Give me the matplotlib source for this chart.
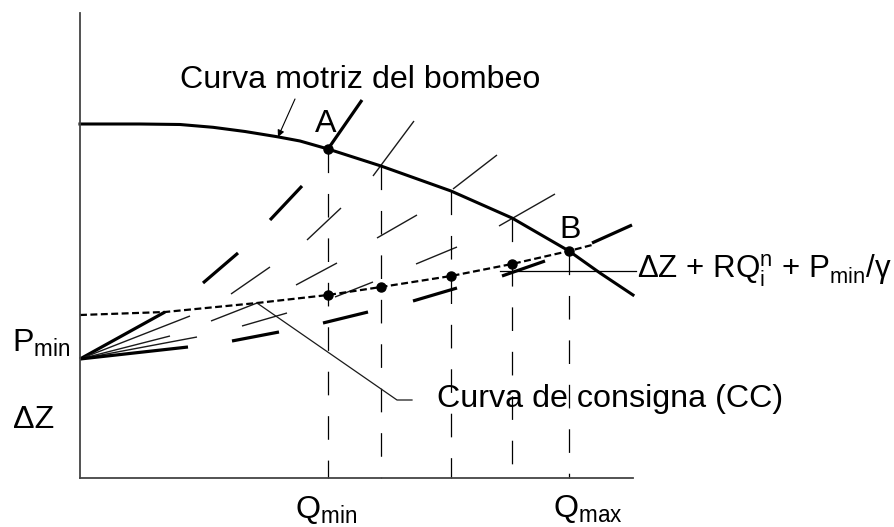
import numpy as np
import matplotlib
matplotlib.use('Agg')
import matplotlib.pyplot as plt

plt.rcParams['font.family'] = ['Liberation Sans', 'DejaVu Sans']
plt.rcParams['mathtext.fontset'] = 'custom'
plt.rcParams['mathtext.rm'] = 'Liberation Sans'
plt.rcParams['mathtext.it'] = 'Liberation Sans:italic'
plt.rcParams['lines.scale_dashes'] = False

# curva motriz del bombeo (Q, H)
q_pump = [0.0, 6.0, 10.0, 13.3, 16.5, 19.7, 22.0, 24.8, 30.1, 37.1, 43.2, 48.9, 52.0, 55.3]
h_pump = [35.4, 35.4, 35.35, 35.07, 34.65, 34.13, 33.7, 32.9, 31.2, 28.7, 26.0, 22.7, 20.5, 18.3]

# curva de consigna (CC)
q_cc = [0.0, 8.5, 17.7, 24.8, 30.1, 37.1, 43.2, 48.9, 51.2]
h_cc = [16.3, 16.6, 17.5, 18.3, 19.1, 20.2, 21.4, 22.7, 23.3]

# caudales de trabajo Qmin ... Qmax
q_i = [24.8, 30.1, 37.1, 43.2, 48.9]
h_pump_i = [32.9, 31.2, 28.7, 26.0, 22.7]
h_cc_i = [18.3, 19.1, 20.2, 21.4, 22.7]

# curvas resistentes: tramos de trazo (pares de puntos consecutivos)
sys_a_q = [0.0, 8.5, 12.3, 15.8, 19.0, 22.2, 24.8, 28.2]
sys_a_h = [11.9, 16.6, 19.5, 22.5, 25.8, 29.2, 32.9, 37.8]
sys_2_q = [0.0, 11.0, 15.1, 19.0, 22.7, 26.1, 29.3, 33.4]
sys_2_h = [11.9, 16.2, 18.4, 21.1, 23.8, 27.0, 30.2, 35.7]
sys_3_q = [0.0, 9.0, 13.1, 17.7, 21.6, 25.7, 29.7, 33.7, 37.3, 41.7]
sys_3_h = [11.9, 14.2, 15.7, 17.5, 19.3, 21.5, 24.0, 26.3, 28.9, 32.3]
sys_4_q = [0.0, 11.7, 16.2, 20.7, 25.5, 29.3, 33.6, 37.7, 41.9, 47.5]
sys_4_h = [11.9, 14.1, 15.2, 16.5, 18.1, 19.6, 21.4, 23.1, 25.2, 28.4]
sys_b_q = [0.0, 10.8, 15.2, 19.9, 24.3, 28.8, 33.3, 37.7, 42.2, 46.5, 51.2, 55.2]
sys_b_h = [11.9, 13.1, 13.7, 14.6, 15.5, 16.6, 17.7, 19.0, 20.2, 21.7, 23.5, 25.3]

h_ref = 20.75  # nivel de referencia del rotulo de la derecha

fig = plt.figure(figsize=(8.94, 5.27), dpi=100)
ax = fig.add_axes([80 / 894, 49 / 527, 553 / 894, 465 / 527])
ax.set_xlim(0, 55.3)
ax.set_ylim(0, 46.5)
for s in ['top', 'right']:
    ax.spines[s].set_visible(False)
for s in ['left', 'bottom']:
    ax.spines[s].set_color('#444444')
    ax.spines[s].set_linewidth(1.3)
ax.set_xticks([])
ax.set_yticks([])


def draw_dashes(qs, hs, lw, color='black'):
    for k in range(0, len(qs) - 1, 2):
        ax.plot(qs[k:k + 2], hs[k:k + 2], color=color, lw=lw,
                solid_capstyle='butt', clip_on=False)


draw_dashes(sys_a_q, sys_a_h, 2.3)
draw_dashes(sys_2_q, sys_2_h, 1.0, '#1a1a1a')
draw_dashes(sys_3_q, sys_3_h, 1.0, '#1a1a1a')
draw_dashes(sys_4_q, sys_4_h, 1.0, '#1a1a1a')
draw_dashes(sys_b_q, sys_b_h, 2.3)

# verticales de cada caudal
for q, h in zip(q_i, h_pump_i):
    ax.plot([q, q], [h, 0], color='black', lw=0.9, linestyle=(0, (17, 15)),
            clip_on=False)

ax.plot(q_pump, h_pump, color='black', lw=2.2, solid_joinstyle='round',
        clip_on=False)
ax.plot(q_cc, h_cc, color='black', lw=1.6, linestyle=(0, (5, 2.5)),
        clip_on=False)

ax.plot(q_i, h_cc_i, 'o', color='black', ms=6.5, clip_on=False)
ax.plot(q_i[0], h_pump_i[0], 'o', color='black', ms=6.5, clip_on=False)

ax.plot([42.0, 55.6], [h_ref, h_ref], color='black', lw=0.9, clip_on=False)

fs = 23.2
ax.text(10.0, 39.0, 'Curva motriz del bombeo', fontsize=fs, va='baseline')
ax.annotate('', xy=(19.8, 34.1), xytext=(21.5, 37.9),
            arrowprops=dict(arrowstyle='-|>', lw=0.8, color='black',
                            mutation_scale=10, shrinkA=0, shrinkB=0))
ax.text(24.6, 35.4, 'A', fontsize=fs, ha='center', va='center')
ax.text(49.0, 24.8, 'B', fontsize=fs, ha='center', va='center')
ax.text(55.7, h_ref, r'ΔZ + RQ$_{\rm i}^{\rm n}$ + P$_{\rm min}$/γ',
        fontsize=22.5, va='center')

ax.plot([33.2, 31.7, 17.7], [7.8, 7.8, 17.5], color='#1a1a1a', lw=0.9)
ax.text(35.7, 7.1, 'Curva de consigna (CC)', fontsize=fs, va='baseline')

ax.text(-6.8, 12.6, r'P$_{\rm min}$', fontsize=fs, va='baseline')
ax.text(-6.7, 5.0, 'ΔZ', fontsize=fs, va='baseline')
ax.text(21.5, -4.0, r'Q$_{\rm min}$', fontsize=fs, va='baseline')
ax.text(47.3, -3.9, r'Q$_{\rm max}$', fontsize=fs, va='baseline')

fig.savefig('out.png', dpi=100, facecolor='white')
